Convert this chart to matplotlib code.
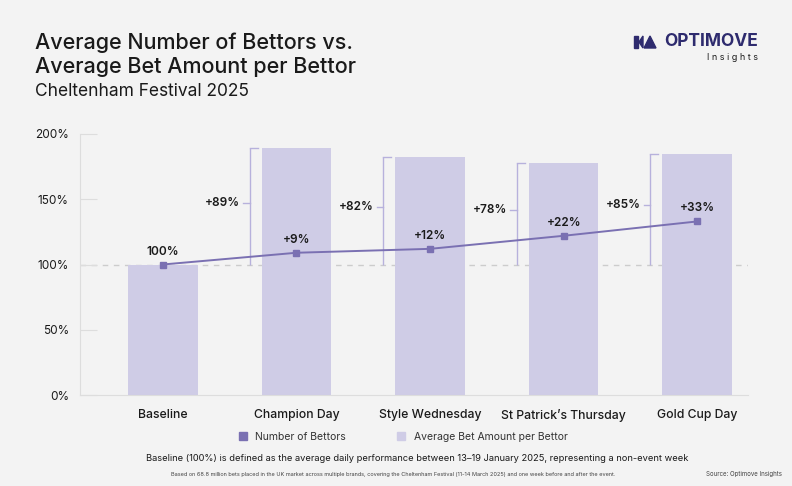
import matplotlib.pyplot as plt
from matplotlib.patches import Polygon
from matplotlib.lines import Line2D

# Data
categories = ['Baseline', 'Champion Day', 'Style Wednesday', "St Patrick\u2019s Thursday", 'Gold Cup Day']
bet_amount = [100, 189, 182, 178, 185]      # Average Bet Amount per Bettor (%)
bettors = [100, 109, 112, 122, 133]         # Number of Bettors (%)
bettor_labels = ['100%', '+9%', '+12%', '+22%', '+33%']
amount_labels = ['', '+89%', '+82%', '+78%', '+85%']

BG = '#f3f3f3'
BAR = '#cfcce6'
LINE = '#7a70b2'
BRACKET = '#b7b1dc'
DARK = '#1a1a1a'
NAVY = '#2e2b6e'

plt.rcParams['font.family'] = ['Inter', 'DejaVu Sans']

fig = plt.figure(figsize=(7.92, 4.86), dpi=100, facecolor=BG)
ax = fig.add_axes([80 / 792, 91 / 486, 668 / 792, 261 / 486])
ax.set_facecolor(BG)

x = list(range(len(categories)))
ax.bar(x, bet_amount, width=0.52, color=BAR, zorder=2)

# baseline reference line
ax.axhline(100, color='#cccccc', lw=1, ls=(0, (4, 4)), zorder=1)

# number of bettors line
ax.plot(x, bettors, color=LINE, lw=1.4, marker='s', ms=4.5, zorder=4)
for xi, v, lab in zip(x, bettors, bettor_labels):
    ax.annotate(lab, (xi, v), xytext=(0, 5), textcoords='offset points',
                ha='center', va='bottom', fontsize=8.5, fontweight='semibold', color=DARK, zorder=5)

# brackets for bet amount increase
for xi, v, lab in zip(x, bet_amount, amount_labels):
    if not lab:
        continue
    bx = xi - 0.35
    ax.plot([bx, bx], [100, v], color=BRACKET, lw=1, zorder=3, solid_capstyle='butt')
    ax.plot([bx, bx + 0.06], [v, v], color=BRACKET, lw=1, zorder=3)
    mid = (100 + v) / 2 + 3
    ax.plot([bx - 0.05, bx], [mid, mid], color=BRACKET, lw=1, zorder=3)
    ax.text(bx - 0.075, mid, lab, ha='right', va='center', fontsize=8.5,
            fontweight='semibold', color=DARK)

ax.set_xlim(-0.62, 4.38)
ax.set_ylim(0, 200)
ax.set_yticks([0, 50, 100, 150, 200])
ax.set_yticklabels(['0%', '50%', '100%', '150%', '200%'])
ax.set_xticks(x)
ax.set_xticklabels(categories)
ax.tick_params(axis='y', direction='in', length=12, width=0.8, color='#dddddd',
               pad=8, labelsize=8.5, labelcolor=DARK)
ax.tick_params(axis='x', length=0, pad=10, labelsize=8.8, labelcolor=DARK)
for lab in ax.get_xticklabels():
    lab.set_fontweight('medium')
for s in ['top', 'right']:
    ax.spines[s].set_visible(False)
ax.spines['left'].set_color('#dddddd')
ax.spines['bottom'].set_color('#dddddd')
ax.spines['left'].set_linewidth(0.8)
ax.spines['bottom'].set_linewidth(0.8)

# titles
fig.text(35 / 792, 1 - 43 / 486, 'Average Number of Bettors vs.', fontsize=15.5,
         fontweight='medium', color=DARK, va='center')
fig.text(35 / 792, 1 - 67 / 486, 'Average Bet Amount per Bettor', fontsize=15.5,
         fontweight='medium', color=DARK, va='center')
fig.text(35 / 792, 1 - 92 / 486, 'Cheltenham Festival 2025', fontsize=12.5,
         color=DARK, va='center')

# logo
fig.text(758 / 792, 1 - 42 / 486, 'OPTIMOVE', fontsize=12.5, fontweight='bold',
         color=NAVY, ha='right', va='center')
fig.text(758 / 792, 1 - 58 / 486, 'I n s i g h t s', fontsize=6.5, color=DARK,
         ha='right', va='center')
fig.patches.append(Polygon([[634 / 792, 1 - 36 / 486], [638 / 792, 1 - 36 / 486],
                            [638 / 792, 1 - 48 / 486], [634 / 792, 1 - 48 / 486]],
                           closed=True, color=NAVY, transform=fig.transFigure))
fig.patches.append(Polygon([[639 / 792, 1 - 42 / 486], [643 / 792, 1 - 36 / 486],
                            [643 / 792, 1 - 48 / 486]],
                           closed=True, color=NAVY, transform=fig.transFigure))
fig.patches.append(Polygon([[644 / 792, 1 - 48 / 486], [650 / 792, 1 - 36 / 486],
                            [656 / 792, 1 - 48 / 486]],
                           closed=True, color=NAVY, transform=fig.transFigure))

# legend
handles = [Line2D([], [], marker='s', ls='', color=LINE, ms=6),
           Line2D([], [], marker='s', ls='', color=BAR, ms=6)]
fig.legend(handles, ['Number of Bettors', 'Average Bet Amount per Bettor'],
           loc='center', bbox_to_anchor=(400 / 792, 1 - 437 / 486), ncol=2,
           frameon=False, fontsize=7.5, handletextpad=0.2, columnspacing=4.3,
           labelcolor='#333333')

# footnotes
fig.text(417 / 792, 1 - 458 / 486,
         'Baseline (100%) is defined as the average daily performance between 13\u201319 January 2025, '
         'representing a non-event week', fontsize=6.7, color=DARK, ha='center', va='center')
fig.text(393 / 792, 1 - 474 / 486,
         'Based on 68.8 million bets placed in the UK market across multiple brands, covering the '
         'Cheltenham Festival (11-14 March 2025) and one week before and after the event.',
         fontsize=4.0, color='#444444', ha='center', va='center')
fig.text(782 / 792, 1 - 474 / 486, 'Source: Optimove Insights', fontsize=4.4,
         color='#444444', ha='right', va='center')

fig.savefig('out.png', dpi=100, facecolor=BG)
